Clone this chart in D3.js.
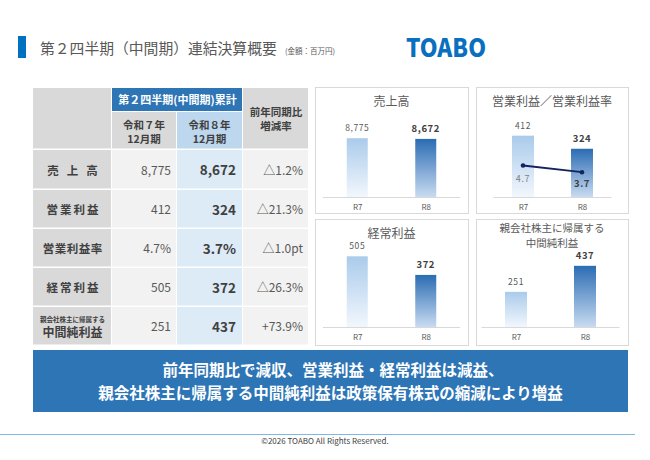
<!DOCTYPE html>
<html><head><meta charset="utf-8">
<script src="https://cdn.jsdelivr.net/npm/d3@7"></script>
<style>body{margin:0;background:#fff}svg{display:block}text{font-family:"Noto Sans CJK JP","Noto Sans",sans-serif}</style>
</head><body>
<script>
// ---- data ----
const categories = ["R7", "R8"];
const sales = [8775, 8672];
const operatingIncome = [412, 324];
const operatingMargin = [4.7, 3.7];
const ordinaryIncome = [505, 372];
const netIncome = [251, 437];
const rowLabels = ["売上高", "営業利益", "営業利益率", "経常利益", "中間純利益"];
const prevValues = ["8,775", "412", "4.7%", "505", "251"];
const currValues = ["8,672", "324", "3.7%", "372", "437"];
const changes = ["△1.2%", "△21.3%", "△1.0pt", "△26.3%", "+73.9%"];
const chartTitles = ["売上高", "営業利益／営業利益率", "経常利益", "親会社株主に帰属する\n中間純利益"];

const W = 650, H = 460;
const svg = d3.select("body").append("svg").attr("width", W).attr("height", H);
const defs = svg.append("defs");
function grad(id, top, bottom) {
  const g = defs.append("linearGradient").attr("id", id).attr("x1", 0).attr("y1", 0).attr("x2", 0).attr("y2", 1);
  g.append("stop").attr("offset", "0%").attr("stop-color", top);
  g.append("stop").attr("offset", "100%").attr("stop-color", bottom);
}
grad("gLight", "#aacbeb", "#f2f7fd");
grad("gDark", "#2b6cb3", "#c8dbf1");

// ---- title ----
svg.append("rect").attr("x", 18).attr("y", 36).attr("width", 8).attr("height", 22).attr("fill", "#0070c0");
svg.append("text").attr("x", 40).attr("y", 54).attr("font-size", 14.8).attr("fill", "#595959")
  .text("第２四半期（中間期）連結決算概要");
svg.append("text").attr("x", 285).attr("y", 54).attr("font-size", 7.5).attr("fill", "#595959").text("(金額：百万円)");
svg.append("text").attr("x", 406).attr("y", 57).attr("font-size", 25).attr("font-weight", 900)
  .attr("font-family", "Liberation Sans, Arial, sans-serif").attr("fill", "#0a6fbf")
  .attr("textLength", 80).attr("lengthAdjust", "spacingAndGlyphs").text("TOABO");

// ---- table ----
const colX = [33, 112, 177, 243, 309];
const rowY = [150, 190, 229, 268, 307, 346];
const tbl = svg.append("g");
function cell(x0, x1, y0, y1, fill) {
  tbl.append("rect").attr("x", x0).attr("y", y0).attr("width", x1 - x0 - 1).attr("height", y1 - y0 - 1.5).attr("fill", fill);
}
// header
cell(colX[0], colX[1], 88, 150, "#d9d9d9");
cell(colX[1], colX[3], 88, 112.5, "#2e75b6");
cell(colX[1], colX[2], 112, 150, "#d9d9d9");
cell(colX[2], colX[3], 112, 150, "#bdd7ee");
cell(colX[3], colX[4], 88, 150, "#d9d9d9");
tbl.append("text").attr("x", (colX[1] + colX[3]) / 2).attr("y", 104).attr("text-anchor", "middle")
  .attr("font-size", 11).attr("font-weight", "bold").attr("fill", "#fff").text("第２四半期(中間期)累計");
[["令和７年", "12月期"], ["令和８年", "12月期"]].forEach((ls, i) => {
  ls.forEach((t, j) => tbl.append("text").attr("x", (colX[1 + i] + colX[2 + i]) / 2 - 0.5).attr("y", 129 + j * 14)
    .attr("text-anchor", "middle").attr("font-size", 10.5).attr("font-weight", "bold").attr("fill", "#404040").text(t));
});
["前年同期比", "増減率"].forEach((t, j) => tbl.append("text").attr("x", (colX[3] + colX[4]) / 2).attr("y", 116 + j * 14)
  .attr("text-anchor", "middle").attr("font-size", 10.5).attr("font-weight", "bold").attr("fill", "#404040").text(t));

rowLabels.forEach((lab, i) => {
  const y0 = rowY[i], y1 = rowY[i + 1], cy = (y0 + y1) / 2;
  cell(colX[0], colX[1], y0, y1, "#d9d9d9");
  cell(colX[1], colX[2], y0, y1, "#f2f2f2");
  cell(colX[2], colX[3], y0, y1, "#ddebf7");
  cell(colX[3], colX[4], y0, y1, "#f2f2f2");
  const lx = (colX[0] + colX[1]) / 2;
  if (i === 4) {
    tbl.append("text").attr("x", lx).attr("y", cy - 5).attr("text-anchor", "middle").attr("font-size", 6.5)
      .attr("font-weight", "bold").attr("fill", "#404040").text("親会社株主に帰属する");
    tbl.append("text").attr("x", lx).attr("y", cy + 10).attr("text-anchor", "middle").attr("font-size", 12)
      .attr("font-weight", "bold").attr("fill", "#404040").text(lab);
  } else {
    const ls = i === 0 ? 8 : (i === 2 ? 0.5 : 2);
    tbl.append("text").attr("x", lx + ls / 2).attr("y", cy + 4.5).attr("text-anchor", "middle").attr("font-size", 11.5)
      .attr("font-weight", "bold").attr("letter-spacing", ls).attr("fill", "#404040").text(lab);
  }
  tbl.append("text").attr("x", 171).attr("y", cy + 4.5).attr("text-anchor", "end").attr("font-size", 12)
    .attr("fill", "#595959").text(prevValues[i]);
  tbl.append("text").attr("x", 236).attr("y", cy + 5).attr("text-anchor", "end").attr("font-size", 13.5)
    .attr("font-weight", "bold").attr("fill", "#404040").text(currValues[i]);
  tbl.append("text").attr("x", 303).attr("y", cy + 4.5).attr("text-anchor", "end").attr("font-size", 12)
    .attr("fill", "#595959").text(changes[i]);
});

// ---- charts ----
const panels = [
  {x0: 315, x1: 468, y0: 87, y1: 213, data: sales, max: 10000, base: 197, h: 67, xr: [323, 460], bw: 21, fmt: d3.format(",")},
  {x0: 476, x1: 628, y0: 87, y1: 213, data: operatingIncome, max: 450, base: 197, h: 67, xr: [493.5, 611.5], bw: 22, fmt: d3.format(","), line: operatingMargin, lmax: 10},
  {x0: 315, x1: 468, y0: 219, y1: 345, data: ordinaryIncome, max: 500, base: 327, h: 70, xr: [323, 460], bw: 21, fmt: d3.format(",")},
  {x0: 476, x1: 628, y0: 219, y1: 345, data: netIncome, max: 500, base: 327, h: 70, xr: [481.5, 619.5], bw: 22, fmt: d3.format(",")}
];
panels.forEach((p, k) => {
  const g = svg.append("g");
  g.append("rect").attr("x", p.x0 + 0.5).attr("y", p.y0 + 0.5).attr("width", p.x1 - p.x0).attr("height", p.y1 - p.y0)
    .attr("fill", "#fff").attr("stroke", "#d9d9d9");
  const lines = chartTitles[k].split("\n");
  const cx = (p.x0 + p.x1) / 2;
  lines.forEach((t, j) => g.append("text").attr("x", cx).attr("y", (lines.length > 1 ? p.y0 + 13 : p.y0 + 19) + j * 14.5)
    .attr("text-anchor", "middle").attr("font-size", lines.length > 1 ? 10.5 : 12).attr("fill", "#595959").text(t));
  const x = d3.scalePoint().domain(categories).range(p.xr).padding(0.5);
  const y = d3.scaleLinear().domain([0, p.max]).range([p.base, p.base - p.h]);
  g.selectAll(".bar").data(p.data).join("rect")
    .attr("x", (d, i) => x(categories[i]) - p.bw / 2).attr("width", p.bw)
    .attr("y", d => y(d)).attr("height", d => y(0) - y(d))
    .attr("fill", (d, i) => i === 0 ? "url(#gLight)" : "url(#gDark)");
  // axis
  const ax = g.append("g").attr("transform", `translate(0,${p.base})`)
    .call(d3.axisBottom(x).tickSize(0).tickPadding(7));
  ax.select(".domain").attr("stroke", "#d9d9d9").attr("d", `M${p.xr[0]},0.5H${p.xr[1]}`);
  ax.selectAll("text").attr("font-size", 8).attr("fill", "#595959").attr("font-family", "Liberation Sans, Arial, sans-serif");
  // value labels
  g.selectAll(".vl").data(p.data).join("text")
    .attr("x", (d, i) => x(categories[i])).attr("y", d => y(d) - 7)
    .attr("text-anchor", "middle")
    .attr("font-size", (d, i) => i === 0 ? 8.5 : 9.5)
    .attr("font-weight", (d, i) => i === 0 ? "normal" : "bold")
    .attr("letter-spacing", 0.6)
    .attr("font-family", "DejaVu Sans, sans-serif")
    .attr("fill", (d, i) => i === 0 ? "#595959" : "#404040")
    .text(d => p.fmt(d));
  if (p.line) {
    const yl = d3.scaleLinear().domain([0, p.lmax]).range([p.base, p.base - p.h]);
    g.append("path").datum(p.line)
      .attr("d", d3.line().x((d, i) => x(categories[i])).y(d => yl(d)))
      .attr("fill", "none").attr("stroke", "#14245e").attr("stroke-width", 1.8);
    g.selectAll(".pt").data(p.line).join("circle")
      .attr("cx", (d, i) => x(categories[i])).attr("cy", d => yl(d)).attr("r", 2.3).attr("fill", "#14245e");
    g.selectAll(".ll").data(p.line).join("text")
      .attr("x", (d, i) => x(categories[i])).attr("y", (d, i) => yl(d) + (i === 0 ? 16 : 15))
      .attr("text-anchor", "middle").attr("font-size", (d, i) => i === 0 ? 9 : 9.5)
      .attr("font-weight", (d, i) => i === 0 ? "normal" : "bold")
      .attr("letter-spacing", 0.6).attr("font-family", "DejaVu Sans, sans-serif")
      .attr("fill", (d, i) => i === 0 ? "#7f7f7f" : "#404040")
      .text(d => d3.format(".1f")(d));
  }
});

// ---- banner ----
svg.append("rect").attr("x", 33).attr("y", 350).attr("width", 595).attr("height", 62).attr("fill", "#2e75b6");
["前年同期比で減収、営業利益・経常利益は減益、", "親会社株主に帰属する中間純利益は政策保有株式の縮減により増益"].forEach((t, j) => {
  svg.append("text").attr("x", j === 0 ? 333 : 330.5).attr("y", 376 + j * 23).attr("text-anchor", "middle")
    .attr("font-size", 15.5).attr("font-weight", "bold").attr("fill", "#fff").text(t);
});

// ---- footer ----
svg.append("line").attr("x1", 0).attr("x2", 635).attr("y1", 434.5).attr("y2", 434.5).attr("stroke", "#7fb8e3").attr("stroke-width", 1.2);
svg.append("text").attr("x", 325).attr("y", 444).attr("text-anchor", "middle").attr("font-size", 8)
  .attr("font-family", "DejaVu Sans, sans-serif").attr("fill", "#404040").text("©2026 TOABO All Rights Reserved.");
</script>
</body></html>
